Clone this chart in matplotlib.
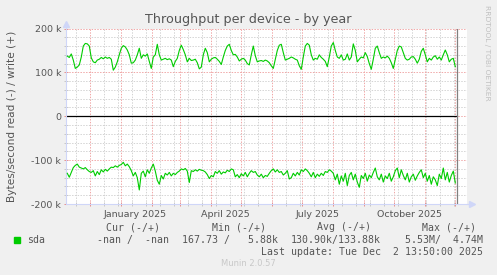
import matplotlib
matplotlib.use("Agg")
import matplotlib.pyplot as plt
import matplotlib.dates as mdates
from matplotlib.ticker import MultipleLocator, FuncFormatter
from matplotlib.patches import Rectangle
import pandas as pd

# daily samples every 2 days, values in kB/s
start_date = "2024-11-08"
write_k = [
    137, 134, 142, 128, 109, 112, 117, 135, 160, 166,
    165, 160, 133, 124, 122, 128, 130, 134, 131, 135,
    132, 134, 130, 105, 112, 124, 140, 155, 161, 158,
    151, 140, 121, 122, 128, 140, 155, 132, 140, 137,
    142, 125, 109, 135, 140, 164, 140, 128, 130, 132,
    129, 131, 128, 113, 125, 132, 150, 162, 152, 140,
    124, 132, 127, 128, 130, 122, 108, 112, 140, 155,
    145, 124, 130, 133, 134, 130, 125, 118, 135, 150,
    160, 164, 150, 140, 141, 135, 126, 130, 132, 128,
    120, 117, 140, 160, 138, 124, 126, 127, 125, 128,
    126, 122, 115, 109, 130, 150, 162, 164, 145, 128,
    130, 132, 135, 133, 130, 128, 115, 107, 135, 160,
    166, 162, 140, 128, 132, 130, 140, 134, 130, 125,
    113, 135, 160, 168, 150, 135, 132, 140, 128, 130,
    142, 128, 135, 165, 150, 124, 130, 135, 133, 145,
    136, 120, 107, 130, 155, 160, 145, 132, 135, 133,
    137, 132, 122, 109, 130, 150, 160, 158, 145, 132,
    128, 130, 135, 136, 130, 121, 130, 148, 155, 140,
    124, 132, 128, 135, 138, 130, 135, 128, 140, 151,
    140, 124, 130, 132, 113,
]
read_k = [
    -130, -139, -128, -117, -112, -109, -116, -118, -120, -117,
    -122, -126, -128, -124, -136, -126, -133, -122, -127, -121,
    -125, -120, -116, -117, -113, -116, -112, -110, -105, -113,
    -109, -115, -124, -136, -128, -140, -168, -130, -125, -138,
    -122, -130, -118, -109, -125, -146, -155, -135, -143, -130,
    -134, -128, -136, -130, -133, -128, -125, -120, -122, -119,
    -125, -151, -124, -126, -122, -125, -121, -123, -124, -127,
    -133, -142, -135, -138, -126, -130, -124, -132, -127, -129,
    -123, -126, -120, -122, -138, -133, -140, -131, -136, -128,
    -138, -130, -124, -128, -126, -134, -138, -132, -140, -135,
    -137, -130, -124, -120, -127, -122, -128, -126, -134, -130,
    -124, -143, -140, -130, -136, -128, -134, -122, -126, -120,
    -124, -130, -138, -128, -140, -132, -137, -130, -135, -126,
    -128, -122, -125, -130, -145, -132, -155, -136, -148, -130,
    -158, -135, -128, -145, -132, -150, -162, -135, -142, -130,
    -148, -134, -140, -128, -118, -138, -145, -132, -150, -136,
    -142, -130, -148, -138, -124, -118, -140, -122, -135, -145,
    -130, -150, -138, -132, -146, -136, -128, -122, -140, -130,
    -148, -135, -155, -138, -145, -158, -132, -142, -118, -145,
    -128, -150, -135, -125, -152,
]

x_start = pd.Timestamp("2024-11-06 17:00")
x_end = pd.Timestamp("2025-12-12 17:00")
now = pd.Timestamp("2025-12-02 13:50")
label_dates = ["2025-01-15", "2025-04-15", "2025-07-16", "2025-10-16"]
label_text = ["January 2025", "April 2025", "July 2025", "October 2025"]

GREEN = "#00CC00"
FONT = "#555555"
AXIS = "#CFD6F8"
MGRID = "#F0A8A8"
GRID = "#D4D4D4"

W, H = 497, 275
fig = plt.figure(figsize=(W / 100, H / 100), dpi=100, facecolor="#F0F0F0")

def fx(x):
    return x / W

def fy(y):
    return 1 - y / H

ax = fig.add_axes([fx(66), fy(204), fx(467) - fx(66), fy(28.5) - fy(204)])
ax.set_facecolor("white")

dates = pd.date_range(start_date, periods=len(write_k), freq="2D")
ax.plot(dates, write_k, color=GREEN, lw=0.8, zorder=3)
ax.plot(dates, read_k, color=GREEN, lw=0.8, zorder=3)

ax.set_xlim(x_start, x_end)
ax.set_ylim(-200, 200)

# grids
ax.xaxis.set_major_locator(mdates.MonthLocator())
ax.xaxis.set_minor_locator(mdates.DayLocator(bymonthday=[1]))
minor_days = pd.date_range("2024-11-17", x_end, freq="14D")
ax.set_xticks(minor_days, minor=True)
ax.yaxis.set_major_locator(MultipleLocator(100))
ax.yaxis.set_minor_locator(MultipleLocator(20))
ax.grid(which="minor", color=GRID, lw=0.72, ls=(0, (1.4, 1.4)))
ax.grid(which="major", color=MGRID, lw=0.72, ls=(0, (1.4, 1.4)))
ax.set_axisbelow(True)

ax.xaxis.set_major_formatter(FuncFormatter(lambda v, p: ""))
ax.yaxis.set_major_formatter(FuncFormatter(lambda v, p: "0" if v == 0 else f"{int(v)} k"))
ax.tick_params(axis="both", which="major", direction="inout", length=3, width=0.72,
               color="#E89090", labelsize=6.8, labelcolor=FONT, pad=2)
ax.tick_params(axis="both", which="minor", direction="inout", length=3, width=0.72,
               color="#C8C8C8")

sec = ax.secondary_xaxis("bottom")
sec.set_xticks(pd.to_datetime(label_dates), label_text)
sec.tick_params(length=0, labelsize=6.8, labelcolor=FONT, pad=4)
sec.spines["bottom"].set_visible(False)

for s in ["top", "right"]:
    ax.spines[s].set_visible(False)
for s in ["left", "bottom"]:
    ax.spines[s].set_color(AXIS)
    ax.spines[s].set_linewidth(0.8)

# zero line and "now" rule
ax.plot([x_start, now], [0, 0], color="black", lw=0.9, zorder=2)
ax.axvline(now, color="#808080", lw=0.9, zorder=4)

# axis arrows
ax.plot([1.0, 1.012], [0, 0], transform=ax.transAxes, color=AXIS, lw=0.8, clip_on=False)
ax.plot([1.013], [0], transform=ax.transAxes, marker=">", ms=4, color=AXIS, clip_on=False)
ax.plot([0, 0], [1.0, 1.02], transform=ax.transAxes, color=AXIS, lw=0.8, clip_on=False)
ax.plot([0], [1.026], transform=ax.transAxes, marker="^", ms=4, color=AXIS, clip_on=False)

fig.text(fx(248), fy(19), "Throughput per device - by year", ha="center", va="center",
         fontsize=9.2, color=FONT)
fig.text(fx(12), fy(116), "Bytes/second read (-) / write (+)", rotation=90,
         ha="center", va="center", fontsize=7.6, color=FONT)
fig.text(fx(487), fy(53), "RRDTOOL / TOBI OETIKER", rotation=270, ha="center",
         va="center", fontsize=5.4, color="#C0C0C0")

mono = dict(family="DejaVu Sans Mono", fontsize=7.1, color=FONT, va="center")
fig.text(fx(160), fy(227.3), "Cur (-/+)", ha="right", **mono)
fig.text(fx(266), fy(227.3), "Min (-/+)", ha="right", **mono)
fig.text(fx(370.7), fy(227.3), "Avg (-/+)", ha="right", **mono)
fig.text(fx(476), fy(227.3), "Max (-/+)", ha="right", **mono)

fig.add_artist(Rectangle((fx(14), fy(243)), fx(6), fy(237) - fy(243),
                         transform=fig.transFigure, color=GREEN))
fig.text(fx(26.7), fy(240), "sda", ha="left", **mono)
fig.text(fx(169.3), fy(240), "-nan /  -nan", ha="right", **mono)
fig.text(fx(278.3), fy(240), "167.73 /   5.88k", ha="right", **mono)
fig.text(fx(380.7), fy(240), "130.90k/133.88k", ha="right", **mono)
fig.text(fx(482.7), fy(240), "5.53M/  4.74M", ha="right", **mono)
fig.text(fx(482.7), fy(251.7), "Last update: Tue Dec  2 13:50:00 2025", ha="right", **mono)
fig.text(fx(248), fy(263.3), "Munin 2.0.57", ha="center", va="center", fontsize=6,
         color="#C8C8C8")

fig.savefig("out.png", dpi=100, facecolor=fig.get_facecolor())
